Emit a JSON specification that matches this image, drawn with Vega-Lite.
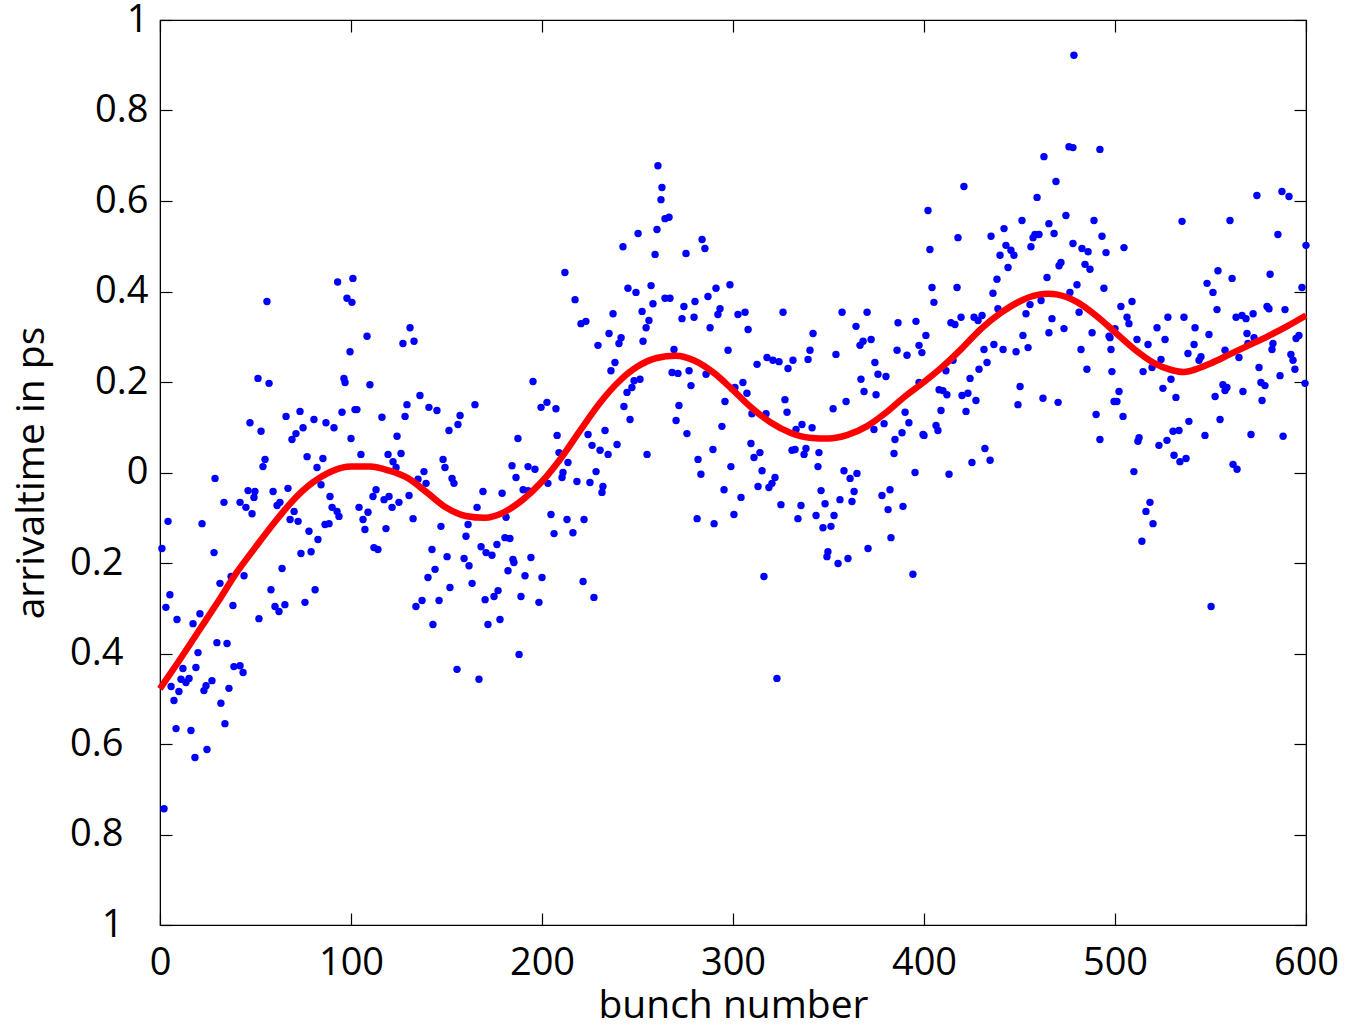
{
  "$schema": "https://vega.github.io/schema/vega-lite/v6.json",
  "width": 1146,
  "height": 905,
  "autosize": {"type": "none"},
  "padding": {"left": 160, "top": 20, "right": 45, "bottom": 103},
  "background": "white",
  "config": {
    "view": {"stroke": "black", "strokeWidth": 1.2},
    "axis": {
      "labelFont": "Open Sans", "labelFontSize": 38, "labelColor": "black",
      "titleFont": "Open Sans", "titleFontSize": 39, "titleFontWeight": "normal", "titleColor": "black",
      "domainColor": "black", "tickColor": "black", "tickSize": -12, "tickWidth": 1.2, "grid": false
    }
  },
  "datasets": {
    "points": [
      {"x":93.0,"y":0.421},{"x":101.0,"y":0.429},{"x":97.9,"y":0.385},{"x":100.5,"y":0.376},{"x":56.0,"y":0.378},{"x":99.5,"y":0.267},{"x":51.3,"y":0.208},{"x":57.1,"y":0.197},{"x":96.3,"y":0.208},{"x":96.9,"y":0.199},
      {"x":66.0,"y":0.124},{"x":73.3,"y":0.135},{"x":47.1,"y":0.110},{"x":52.9,"y":0.091},{"x":80.6,"y":0.117},{"x":74.9,"y":0.099},{"x":86.9,"y":0.110},{"x":91.1,"y":0.099},{"x":95.3,"y":0.133},{"x":71.2,"y":0.086},
      {"x":69.1,"y":0.073},{"x":100.0,"y":0.075},{"x":102.1,"y":0.139},{"x":77.0,"y":0.035},{"x":85.3,"y":0.031},{"x":55.0,"y":0.029},{"x":53.9,"y":0.013},{"x":82.2,"y":0.011},{"x":28.8,"y":-0.013},{"x":46.1,"y":-0.040},
      {"x":49.7,"y":-0.042},{"x":49.2,"y":-0.055},{"x":59.2,"y":-0.042},{"x":67.0,"y":-0.035},{"x":84.3,"y":-0.027},{"x":33.5,"y":-0.066},{"x":41.9,"y":-0.066},{"x":45.0,"y":-0.077},{"x":48.2,"y":-0.091},{"x":62.8,"y":-0.066},
      {"x":61.3,"y":-0.073},{"x":70.2,"y":-0.086},{"x":89.0,"y":-0.053},{"x":90.1,"y":-0.077},{"x":92.7,"y":-0.086},{"x":93.7,"y":-0.097},{"x":4.2,"y":-0.108},{"x":22.0,"y":-0.113},{"x":68.1,"y":-0.104},{"x":72.3,"y":-0.108},
      {"x":86.4,"y":-0.115},{"x":88.5,"y":-0.113},{"x":78.0,"y":-0.130},{"x":82.7,"y":-0.148},{"x":1.0,"y":-0.168},{"x":28.3,"y":-0.177},{"x":73.8,"y":-0.179},{"x":79.1,"y":-0.175},{"x":63.9,"y":-0.212},{"x":31.4,"y":-0.245},
      {"x":37.2,"y":-0.230},{"x":44.0,"y":-0.228},{"x":5.2,"y":-0.270},{"x":3.1,"y":-0.298},{"x":8.9,"y":-0.325},{"x":20.9,"y":-0.312},{"x":17.3,"y":-0.334},{"x":38.2,"y":-0.294},{"x":58.1,"y":-0.259},{"x":60.2,"y":-0.296},
      {"x":62.3,"y":-0.307},{"x":65.4,"y":-0.292},{"x":51.8,"y":-0.323},{"x":75.9,"y":-0.287},{"x":81.2,"y":-0.259},{"x":29.8,"y":-0.376},{"x":35.1,"y":-0.378},{"x":19.9,"y":-0.398},{"x":12.0,"y":-0.433},{"x":18.8,"y":-0.431},
      {"x":11.0,"y":-0.457},{"x":13.6,"y":-0.464},{"x":15.2,"y":-0.455},{"x":5.8,"y":-0.473},{"x":9.9,"y":-0.484},{"x":7.3,"y":-0.504},{"x":23.0,"y":-0.482},{"x":24.1,"y":-0.471},{"x":27.2,"y":-0.460},{"x":38.7,"y":-0.429},
      {"x":41.9,"y":-0.427},{"x":43.5,"y":-0.442},{"x":36.1,"y":-0.477},{"x":31.9,"y":-0.510},{"x":34.0,"y":-0.555},{"x":8.4,"y":-0.566},{"x":16.2,"y":-0.570},{"x":24.6,"y":-0.612},{"x":18.3,"y":-0.630},{"x":2.1,"y":-0.743},
      {"x":130.9,"y":0.320},{"x":108.4,"y":0.301},{"x":127.2,"y":0.285},{"x":133.0,"y":0.290},{"x":109.9,"y":0.194},{"x":195.3,"y":0.201},{"x":136.1,"y":0.170},{"x":129.3,"y":0.150},{"x":140.8,"y":0.144},{"x":145.0,"y":0.137},
      {"x":164.9,"y":0.150},{"x":103.1,"y":0.139},{"x":116.2,"y":0.122},{"x":128.3,"y":0.124},{"x":157.1,"y":0.126},{"x":156.0,"y":0.106},{"x":151.3,"y":0.093},{"x":199.5,"y":0.144},{"x":124.1,"y":0.080},{"x":187.4,"y":0.075},
      {"x":105.2,"y":0.040},{"x":119.4,"y":0.040},{"x":126.2,"y":0.042},{"x":122.0,"y":0.024},{"x":123.6,"y":0.011},{"x":148.2,"y":0.029},{"x":149.2,"y":0.011},{"x":138.2,"y":0.002},{"x":135.1,"y":-0.015},{"x":139.3,"y":-0.024},
      {"x":152.9,"y":-0.013},{"x":153.9,"y":-0.024},{"x":184.3,"y":0.015},{"x":192.7,"y":0.013},{"x":196.3,"y":0.007},{"x":186.4,"y":-0.011},{"x":113.1,"y":-0.038},{"x":111.5,"y":-0.053},{"x":117.3,"y":-0.060},{"x":119.9,"y":-0.053},
      {"x":125.1,"y":-0.066},{"x":130.4,"y":-0.051},{"x":121.5,"y":-0.077},{"x":104.2,"y":-0.077},{"x":108.9,"y":-0.088},{"x":106.3,"y":-0.104},{"x":107.3,"y":-0.126},{"x":118.3,"y":-0.124},{"x":132.5,"y":-0.102},{"x":147.1,"y":-0.119},
      {"x":169.1,"y":-0.042},{"x":179.1,"y":-0.046},{"x":190.1,"y":-0.038},{"x":192.7,"y":-0.040},{"x":166.0,"y":-0.077},{"x":181.2,"y":-0.099},{"x":161.3,"y":-0.115},{"x":160.2,"y":-0.141},{"x":180.6,"y":-0.144},{"x":183.2,"y":-0.146},
      {"x":176.4,"y":-0.159},{"x":168.1,"y":-0.164},{"x":112.0,"y":-0.166},{"x":114.1,"y":-0.170},{"x":142.4,"y":-0.170},{"x":150.3,"y":-0.186},{"x":159.2,"y":-0.190},{"x":170.7,"y":-0.177},{"x":173.8,"y":-0.183},{"x":184.8,"y":-0.192},
      {"x":194.2,"y":-0.188},{"x":161.8,"y":-0.206},{"x":185.3,"y":-0.199},{"x":182.2,"y":-0.217},{"x":191.1,"y":-0.228},{"x":200.0,"y":-0.232},{"x":144.0,"y":-0.214},{"x":140.3,"y":-0.232},{"x":151.8,"y":-0.254},{"x":163.4,"y":-0.245},
      {"x":177.0,"y":-0.261},{"x":174.9,"y":-0.274},{"x":137.2,"y":-0.283},{"x":134.0,"y":-0.296},{"x":146.1,"y":-0.283},{"x":170.2,"y":-0.281},{"x":189.0,"y":-0.274},{"x":198.4,"y":-0.287},{"x":142.9,"y":-0.336},{"x":171.7,"y":-0.336},
      {"x":178.0,"y":-0.325},{"x":188.0,"y":-0.402},{"x":155.5,"y":-0.435},{"x":167.0,"y":-0.457},
      {"x":260.7,"y":0.678},{"x":262.8,"y":0.630},{"x":262.3,"y":0.603},{"x":264.4,"y":0.561},{"x":266.5,"y":0.564},{"x":260.2,"y":0.537},{"x":250.3,"y":0.528},{"x":242.4,"y":0.499},{"x":259.2,"y":0.482},{"x":275.4,"y":0.484},
      {"x":283.8,"y":0.515},{"x":285.3,"y":0.495},{"x":212.0,"y":0.442},{"x":245.0,"y":0.407},{"x":249.2,"y":0.398},{"x":257.1,"y":0.413},{"x":217.3,"y":0.382},{"x":264.4,"y":0.385},{"x":267.0,"y":0.385},{"x":258.1,"y":0.373},
      {"x":274.3,"y":0.367},{"x":280.1,"y":0.378},{"x":286.9,"y":0.389},{"x":291.1,"y":0.407},{"x":298.4,"y":0.415},{"x":293.2,"y":0.362},{"x":292.1,"y":0.349},{"x":237.2,"y":0.351},{"x":252.4,"y":0.356},{"x":220.4,"y":0.329},
      {"x":223.0,"y":0.334},{"x":256.0,"y":0.336},{"x":254.5,"y":0.320},{"x":273.3,"y":0.340},{"x":279.6,"y":0.343},{"x":288.0,"y":0.320},{"x":235.1,"y":0.307},{"x":241.4,"y":0.298},{"x":240.3,"y":0.285},{"x":252.9,"y":0.290},
      {"x":229.3,"y":0.281},{"x":297.4,"y":0.270},{"x":269.1,"y":0.272},{"x":238.2,"y":0.243},{"x":236.1,"y":0.225},{"x":268.1,"y":0.221},{"x":271.2,"y":0.219},{"x":277.0,"y":0.225},{"x":285.9,"y":0.217},{"x":248.2,"y":0.203},
      {"x":251.3,"y":0.206},{"x":247.1,"y":0.188},{"x":244.5,"y":0.177},{"x":278.0,"y":0.192},{"x":299.5,"y":0.186},{"x":202.6,"y":0.155},{"x":207.3,"y":0.141},{"x":242.9,"y":0.146},{"x":271.7,"y":0.148},{"x":295.8,"y":0.157},
      {"x":246.1,"y":0.117},{"x":270.2,"y":0.115},{"x":294.2,"y":0.102},{"x":233.0,"y":0.093},{"x":275.9,"y":0.086},{"x":207.9,"y":0.082},{"x":224.1,"y":0.084},{"x":226.2,"y":0.060},{"x":230.4,"y":0.049},{"x":234.6,"y":0.040},
      {"x":239.3,"y":0.062},{"x":208.9,"y":0.044},{"x":255.0,"y":0.040},{"x":289.5,"y":0.051},{"x":281.7,"y":0.029},{"x":213.6,"y":0.022},{"x":211.0,"y":0.000},{"x":210.5,"y":-0.011},{"x":228.3,"y":0.002},{"x":218.3,"y":-0.020},
      {"x":225.1,"y":-0.022},{"x":231.9,"y":-0.031},{"x":231.4,"y":-0.044},{"x":203.1,"y":-0.024},{"x":283.2,"y":-0.004},{"x":298.9,"y":0.013},{"x":295.3,"y":-0.038},{"x":204.7,"y":-0.093},{"x":213.1,"y":-0.104},{"x":222.0,"y":-0.104},
      {"x":206.3,"y":-0.135},{"x":216.2,"y":-0.133},{"x":281.2,"y":-0.102},{"x":290.1,"y":-0.113},{"x":300.5,"y":-0.093},{"x":221.5,"y":-0.241},{"x":227.2,"y":-0.276},
      {"x":302.6,"y":0.349},{"x":306.3,"y":0.354},{"x":326.2,"y":0.354},{"x":307.9,"y":0.316},{"x":357.1,"y":0.354},{"x":370.2,"y":0.354},{"x":364.4,"y":0.323},{"x":386.4,"y":0.331},{"x":395.8,"y":0.334},{"x":341.9,"y":0.307},
      {"x":372.3,"y":0.294},{"x":368.1,"y":0.290},{"x":366.5,"y":0.281},{"x":317.8,"y":0.254},{"x":320.9,"y":0.248},{"x":324.1,"y":0.245},{"x":331.4,"y":0.248},{"x":328.8,"y":0.230},{"x":312.6,"y":0.239},{"x":340.3,"y":0.270},
      {"x":339.3,"y":0.250},{"x":353.9,"y":0.261},{"x":374.3,"y":0.243},{"x":385.9,"y":0.270},{"x":391.1,"y":0.259},{"x":397.4,"y":0.281},{"x":398.9,"y":0.265},{"x":375.9,"y":0.217},{"x":380.1,"y":0.212},{"x":367.0,"y":0.206},
      {"x":305.2,"y":0.199},{"x":301.0,"y":0.188},{"x":307.3,"y":0.175},{"x":368.6,"y":0.179},{"x":374.9,"y":0.172},{"x":327.2,"y":0.161},{"x":328.3,"y":0.133},{"x":317.3,"y":0.130},{"x":309.9,"y":0.130},{"x":359.2,"y":0.157},
      {"x":352.4,"y":0.141},{"x":390.1,"y":0.133},{"x":392.1,"y":0.110},{"x":379.1,"y":0.108},{"x":373.8,"y":0.095},{"x":336.1,"y":0.106},{"x":341.4,"y":0.099},{"x":333.0,"y":0.095},{"x":388.5,"y":0.088},{"x":399.5,"y":0.084},
      {"x":384.8,"y":0.073},{"x":309.4,"y":0.064},{"x":314.1,"y":0.044},{"x":311.0,"y":0.033},{"x":330.9,"y":0.049},{"x":332.5,"y":0.051},{"x":338.2,"y":0.053},{"x":337.2,"y":0.040},{"x":345.0,"y":0.044},{"x":384.3,"y":0.042},
      {"x":315.2,"y":0.004},{"x":344.5,"y":0.013},{"x":358.1,"y":0.004},{"x":364.9,"y":-0.002},{"x":361.3,"y":-0.013},{"x":395.3,"y":0.000},{"x":322.0,"y":-0.011},{"x":320.4,"y":-0.024},{"x":318.8,"y":-0.033},{"x":313.1,"y":-0.031},
      {"x":346.1,"y":-0.040},{"x":363.4,"y":-0.042},{"x":382.2,"y":-0.038},{"x":378.0,"y":-0.051},{"x":304.2,"y":-0.055},{"x":356.0,"y":-0.060},{"x":362.3,"y":-0.064},{"x":348.2,"y":-0.069},{"x":325.1,"y":-0.071},{"x":335.6,"y":-0.073},
      {"x":389.0,"y":-0.075},{"x":381.2,"y":-0.082},{"x":343.5,"y":-0.095},{"x":352.9,"y":-0.095},{"x":334.0,"y":-0.102},{"x":347.1,"y":-0.122},{"x":351.3,"y":-0.119},{"x":382.7,"y":-0.144},{"x":370.7,"y":-0.168},{"x":349.7,"y":-0.175},
      {"x":349.2,"y":-0.186},{"x":355.0,"y":-0.201},{"x":360.2,"y":-0.190},{"x":316.2,"y":-0.230},{"x":394.2,"y":-0.225},{"x":323.0,"y":-0.455},
      {"x":420.9,"y":0.632},{"x":469.1,"y":0.643},{"x":459.2,"y":0.608},{"x":402.1,"y":0.579},{"x":474.3,"y":0.568},{"x":489.0,"y":0.557},{"x":451.3,"y":0.557},{"x":465.4,"y":0.550},{"x":441.9,"y":0.539},{"x":435.1,"y":0.522},
      {"x":417.8,"y":0.519},{"x":458.1,"y":0.526},{"x":460.2,"y":0.526},{"x":457.1,"y":0.519},{"x":456.0,"y":0.499},{"x":468.1,"y":0.528},{"x":493.2,"y":0.522},{"x":478.0,"y":0.506},{"x":482.7,"y":0.495},{"x":485.9,"y":0.488},
      {"x":495.3,"y":0.486},{"x":403.1,"y":0.493},{"x":442.9,"y":0.502},{"x":445.5,"y":0.491},{"x":447.1,"y":0.480},{"x":439.8,"y":0.480},{"x":471.7,"y":0.464},{"x":470.7,"y":0.457},{"x":444.0,"y":0.453},{"x":484.3,"y":0.460},
      {"x":486.9,"y":0.449},{"x":464.4,"y":0.431},{"x":438.2,"y":0.427},{"x":404.2,"y":0.409},{"x":417.3,"y":0.409},{"x":480.1,"y":0.415},{"x":494.2,"y":0.407},{"x":436.1,"y":0.396},{"x":476.4,"y":0.398},{"x":405.2,"y":0.376},
      {"x":455.5,"y":0.371},{"x":461.3,"y":0.380},{"x":438.7,"y":0.362},{"x":453.4,"y":0.351},{"x":414.1,"y":0.331},{"x":416.2,"y":0.327},{"x":419.4,"y":0.343},{"x":426.2,"y":0.343},{"x":428.3,"y":0.336},{"x":430.4,"y":0.347},
      {"x":481.2,"y":0.354},{"x":467.0,"y":0.340},{"x":473.3,"y":0.318},{"x":465.4,"y":0.309},{"x":488.0,"y":0.309},{"x":497.4,"y":0.298},{"x":401.0,"y":0.303},{"x":451.8,"y":0.303},{"x":436.6,"y":0.283},{"x":441.4,"y":0.272},
      {"x":431.4,"y":0.272},{"x":448.2,"y":0.267},{"x":454.5,"y":0.276},{"x":482.2,"y":0.272},{"x":497.9,"y":0.272},{"x":433.0,"y":0.243},{"x":415.2,"y":0.248},{"x":411.5,"y":0.225},{"x":428.8,"y":0.228},{"x":485.3,"y":0.228},
      {"x":498.4,"y":0.223},{"x":397.4,"y":0.199},{"x":424.1,"y":0.208},{"x":407.9,"y":0.183},{"x":409.9,"y":0.181},{"x":412.0,"y":0.172},{"x":450.3,"y":0.190},{"x":419.9,"y":0.170},{"x":423.0,"y":0.175},{"x":427.2,"y":0.159},
      {"x":462.3,"y":0.164},{"x":470.2,"y":0.155},{"x":449.2,"y":0.150},{"x":499.5,"y":0.157},{"x":408.9,"y":0.137},{"x":422.0,"y":0.135},{"x":490.1,"y":0.128},{"x":406.3,"y":0.104},{"x":407.3,"y":0.093},{"x":400.0,"y":0.082},
      {"x":492.1,"y":0.073},{"x":431.9,"y":0.053},{"x":425.1,"y":0.022},{"x":434.6,"y":0.027},{"x":413.1,"y":-0.004},
      {"x":478.5,"y":0.922},{"x":475.9,"y":0.720},{"x":478.0,"y":0.718},{"x":462.8,"y":0.698},{"x":492.1,"y":0.714},
      {"x":574.3,"y":0.612},{"x":587.4,"y":0.621},{"x":591.1,"y":0.610},{"x":535.1,"y":0.555},{"x":560.2,"y":0.557},{"x":585.3,"y":0.526},{"x":600.0,"y":0.502},{"x":504.7,"y":0.497},{"x":553.9,"y":0.446},{"x":548.2,"y":0.418},
      {"x":551.3,"y":0.398},{"x":561.3,"y":0.429},{"x":581.2,"y":0.438},{"x":597.9,"y":0.409},{"x":503.1,"y":0.367},{"x":508.9,"y":0.378},{"x":506.3,"y":0.343},{"x":507.3,"y":0.329},{"x":553.4,"y":0.360},{"x":579.6,"y":0.367},
      {"x":580.6,"y":0.362},{"x":589.0,"y":0.360},{"x":527.7,"y":0.343},{"x":536.1,"y":0.343},{"x":563.4,"y":0.343},{"x":566.5,"y":0.347},{"x":568.6,"y":0.340},{"x":572.3,"y":0.351},{"x":522.0,"y":0.320},{"x":541.9,"y":0.320},
      {"x":549.2,"y":0.305},{"x":569.1,"y":0.307},{"x":500.0,"y":0.318},{"x":496.9,"y":0.301},{"x":596.3,"y":0.303},{"x":594.8,"y":0.296},{"x":511.5,"y":0.294},{"x":526.2,"y":0.294},{"x":517.3,"y":0.283},{"x":541.4,"y":0.283},
      {"x":538.2,"y":0.263},{"x":545.0,"y":0.256},{"x":544.0,"y":0.248},{"x":557.6,"y":0.270},{"x":564.9,"y":0.254},{"x":572.8,"y":0.298},{"x":569.6,"y":0.285},{"x":582.7,"y":0.285},{"x":582.2,"y":0.272},{"x":592.1,"y":0.261},
      {"x":593.2,"y":0.248},{"x":594.2,"y":0.228},{"x":524.1,"y":0.250},{"x":519.4,"y":0.232},{"x":514.7,"y":0.223},{"x":575.4,"y":0.232},{"x":586.4,"y":0.214},{"x":599.5,"y":0.197},{"x":529.3,"y":0.206},{"x":525.1,"y":0.186},
      {"x":531.9,"y":0.166},{"x":556.5,"y":0.194},{"x":558.6,"y":0.188},{"x":557.6,"y":0.181},{"x":552.4,"y":0.168},{"x":567.0,"y":0.179},{"x":576.4,"y":0.199},{"x":578.5,"y":0.192},{"x":577.0,"y":0.159},{"x":502.1,"y":0.179},
      {"x":501.0,"y":0.157},{"x":504.2,"y":0.124},{"x":538.7,"y":0.113},{"x":555.0,"y":0.117},{"x":530.4,"y":0.091},{"x":533.5,"y":0.093},{"x":527.2,"y":0.071},{"x":523.0,"y":0.060},{"x":512.6,"y":0.077},{"x":512.0,"y":0.069},
      {"x":547.1,"y":0.082},{"x":571.2,"y":0.084},{"x":588.0,"y":0.080},{"x":530.9,"y":0.038},{"x":534.0,"y":0.024},{"x":537.2,"y":0.031},{"x":561.8,"y":0.018},{"x":563.9,"y":0.007},{"x":509.9,"y":0.002},{"x":518.3,"y":-0.066},
      {"x":516.2,"y":-0.086},{"x":519.9,"y":-0.113},{"x":514.1,"y":-0.152},{"x":550.3,"y":-0.296}
    ],
    "fit": [
      {"x":0,"y":-0.478},{"x":10,"y":-0.416},{"x":20,"y":-0.352},{"x":30,"y":-0.288},{"x":40,"y":-0.222},{"x":50,"y":-0.165},{"x":60,"y":-0.11},{"x":70,"y":-0.06},{"x":80,"y":-0.022},{"x":90,"y":0.003},
      {"x":100,"y":0.013},{"x":110,"y":0.013},{"x":120,"y":0.004},{"x":130,"y":-0.013},{"x":140,"y":-0.045},{"x":150,"y":-0.078},{"x":160,"y":-0.096},{"x":170,"y":-0.1},{"x":180,"y":-0.088},{"x":190,"y":-0.06},
      {"x":200,"y":-0.02},{"x":210,"y":0.032},{"x":220,"y":0.093},{"x":230,"y":0.152},{"x":240,"y":0.2},{"x":250,"y":0.234},{"x":260,"y":0.253},{"x":270,"y":0.258},{"x":280,"y":0.247},{"x":290,"y":0.22},
      {"x":300,"y":0.182},{"x":310,"y":0.142},{"x":320,"y":0.11},{"x":330,"y":0.088},{"x":340,"y":0.077},{"x":350,"y":0.075},{"x":360,"y":0.083},{"x":370,"y":0.102},{"x":380,"y":0.132},{"x":390,"y":0.168},
      {"x":400,"y":0.2},{"x":410,"y":0.235},{"x":420,"y":0.275},{"x":430,"y":0.318},{"x":440,"y":0.352},{"x":450,"y":0.378},{"x":460,"y":0.393},{"x":465,"y":0.395},{"x":470,"y":0.393},{"x":480,"y":0.377},
      {"x":490,"y":0.347},{"x":500,"y":0.31},{"x":510,"y":0.273},{"x":520,"y":0.243},{"x":530,"y":0.226},{"x":536,"y":0.222},{"x":540,"y":0.225},{"x":550,"y":0.241},{"x":560,"y":0.261},{"x":570,"y":0.281},
      {"x":580,"y":0.301},{"x":590,"y":0.323},{"x":600,"y":0.347}
    ]
  },
  "layer": [
    {
      "data": {"name": "points"},
      "mark": {"type": "circle", "color": "#0000FF", "opacity": 1, "size": 55},
      "encoding": {
        "x": {"field": "x", "type": "quantitative", "scale": {"domain": [0, 600], "nice": false, "zero": false},
          "axis": {"orient": "bottom", "values": [0,100,200,300,400,500,600], "title": "bunch number", "labelPadding": 31, "titlePadding": 4, "labelFlush": false}},
        "y": {"field": "y", "type": "quantitative", "scale": {"domain": [-1, 1], "nice": false, "zero": false},
          "axis": {"orient": "left", "values": [-1,-0.8,-0.6,-0.4,-0.2,0,0.2,0.4,0.6,0.8,1], "labelExpr": "format(abs(datum.value), '~g')", "title": "arrivaltime in ps",
            "labelPadding": {"condition": {"test": "datum.value < 0", "value": 49}, "value": 24}, "titlePadding": 18, "labelFlush": false}}
      }
    },
    {
      "data": {"name": "fit"},
      "mark": {"type": "line", "color": "#FF0000", "strokeWidth": 6.5, "interpolate": "monotone"},
      "encoding": {
        "x": {"field": "x", "type": "quantitative",
          "axis": {"orient": "top", "values": [0,100,200,300,400,500,600], "labels": false, "title": null}},
        "y": {"field": "y", "type": "quantitative",
          "axis": {"orient": "right", "values": [-1,-0.8,-0.6,-0.4,-0.2,0,0.2,0.4,0.6,0.8,1], "labels": false, "title": null}}
      }
    }
  ],
  "resolve": {"axis": {"x": "independent", "y": "independent"}}
}
